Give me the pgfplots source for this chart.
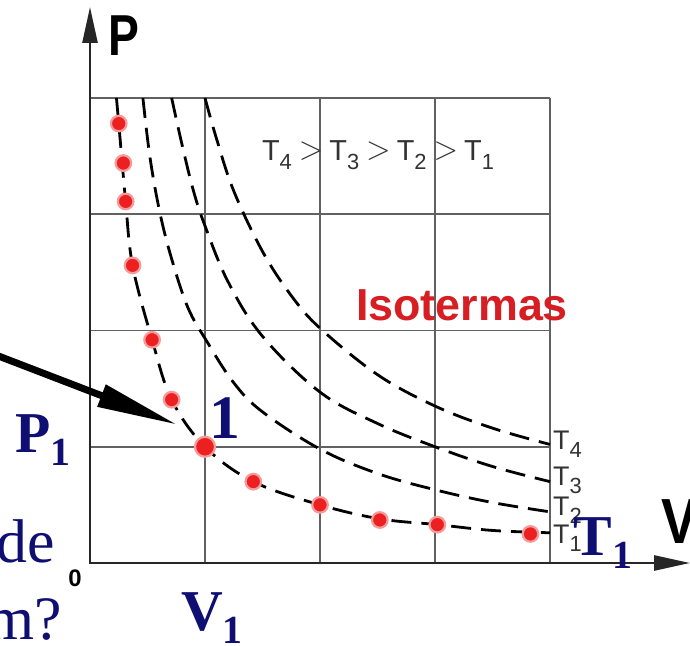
\documentclass[border=0pt]{standalone}
\usepackage{pgfplots}
\pgfplotsset{compat=1.18}
\usepackage{fontspec}
\setmainfont{Liberation Serif}
\setsansfont{Liberation Sans}
\usetikzlibrary{arrows.meta}
\definecolor{navy}{RGB}{14,14,115}
\definecolor{isored}{RGB}{215,30,35}
\definecolor{dotred}{RGB}{236,32,32}
\newcommand{\Tsub}[1]{T\raisebox{-0.3em}{\fontsize{22}{22}\selectfont #1}}
\newcommand{\bigGt}{\hspace{7bp}\raisebox{0.02em}{\scalebox{1.3}[1.35]{$>$}}\hspace{6bp}}
\begin{document}
\begin{tikzpicture}[x=1bp,y=1bp]
\clip (-90,-83) rectangle (600,563);
\fill[white] (-90,-83) rectangle (600,563);
\begin{axis}[
  at={(0,0)}, anchor=south west,
  scale only axis, width=460bp, height=465bp,
  xmin=0, xmax=4, ymin=0, ymax=4,
  xtick={0,1,2,3,4}, ytick={0,1,2,3,4},
  xticklabels={}, yticklabels={},
  tick style={draw=none},
  grid=major,
  major grid style={line width=1.8bp, black!62},
  axis line style={draw=none},
  clip=false,
]
% isotherm T4
\addplot[black, line width=2.8bp, dash pattern=on 20bp off 10bp, smooth, tension=0.6] coordinates {
 (1.0,4.0) (1.1,3.65) (1.25,3.2) (1.5,2.68) (1.75,2.3) (2.0,2.02) (2.5,1.62) (3.0,1.35) (3.5,1.16) (4.0,1.02)};
% T3
\addplot[black, line width=2.8bp, dash pattern=on 20bp off 10bp, smooth, tension=0.6] coordinates {
 (0.71,4.0) (0.8,3.6) (0.9,3.2) (1.0,2.9) (1.2,2.42) (1.5,1.95) (2.0,1.47) (2.5,1.2) (3.0,1.0) (3.5,0.83) (4.0,0.70)};
% T2
\addplot[black, line width=2.8bp, dash pattern=on 20bp off 10bp, smooth, tension=0.6] coordinates {
 (0.46,4.0) (0.52,3.5) (0.6,3.05) (0.7,2.65) (0.85,2.2) (1.02,1.9) (1.25,1.55) (1.5,1.3) (2.0,0.98) (2.5,0.77) (3.0,0.63) (3.5,0.52) (4.0,0.44)};
% T1
\addplot[black, line width=2.8bp, dash pattern=on 20bp off 10bp, smooth, tension=0.6] coordinates {
 (0.23,4.0) (0.25,3.78) (0.28,3.44) (0.31,3.11) (0.37,2.56) (0.54,1.92) (0.71,1.405) (1.0,1.0) (1.42,0.70) (2.0,0.50) (2.52,0.38) (3.02,0.33) (3.5,0.28) (4.0,0.26)};
% red dots on T1
\addplot[only marks, mark=*, mark size=7.8bp, draw=dotred!45!white, line width=2.2bp, fill=dotred] coordinates {
 (0.25,3.78) (0.29,3.44) (0.31,3.11) (0.37,2.56) (0.54,1.92) (0.71,1.405) (1.42,0.70) (2.0,0.50) (2.52,0.37) (3.02,0.33) (3.83,0.25)};
\addplot[only marks, mark=*, mark size=10bp, draw=dotred!45!white, line width=2.2bp, fill=dotred] coordinates {(1.0,1.0)};
\end{axis}
% axes
\draw[line width=2.6bp, black!85, -{Triangle[length=36bp,width=15bp]}] (0,-1) -- (0,556);
\draw[line width=2.6bp, black!85, -{Triangle[length=36bp,width=15bp]}] (-1,0) -- (600,0);
% axis letters
\node[font=\sffamily\bfseries\fontsize{58}{58}\selectfont, xscale=0.8] at (34,527) {P};
\node[font=\sffamily\bfseries\fontsize{64}{64}\selectfont, xscale=0.85] at (590,41) {V};
\node[font=\sffamily\bfseries\fontsize{24}{24}\selectfont] at (-15,-15) {0};
% inequality
\node[font=\sffamily\fontsize{29}{29}\selectfont, black!80] at (288,408) {\Tsub{4}\bigGt\Tsub{3}\bigGt\Tsub{2}\bigGt\Tsub{1}};
\node[font=\sffamily\bfseries\fontsize{45}{45}\selectfont, isored] at (372,258) {Isotermas};
% curve end labels
\foreach \lab/\yy in {4/119,3/83,2/53,1/25}
  \node[anchor=west, inner sep=0pt, font=\sffamily\fontsize{27}{27}\selectfont, black!80] at (463,\yy) {\Tsub{\lab}};
% pointer arrow
\draw[line width=7bp, -{Triangle[length=82bp,width=22bp]}] (-115,216) -- (88,138);
% blue annotations
\node[font=\bfseries\fontsize{58}{58}\selectfont, navy] at (-47,123) {P\raisebox{-0.22em}{\fontsize{40}{40}\selectfont 1}};
\node[font=\bfseries\fontsize{62}{62}\selectfont, navy] at (135,145) {1};
\node[font=\bfseries\fontsize{58}{58}\selectfont, navy] at (122,-55) {V\raisebox{-0.22em}{\fontsize{40}{40}\selectfont 1}};
\node[font=\bfseries\fontsize{58}{58}\selectfont, navy] at (513,20) {T\raisebox{-0.22em}{\fontsize{40}{40}\selectfont 1}};
\node[anchor=base east, inner sep=0pt, font=\fontsize{62}{62}\selectfont, navy] at (-35,0) {de};
\node[anchor=base east, inner sep=0pt, font=\fontsize{62}{62}\selectfont, navy] at (-28,-77) {m?};
\end{tikzpicture}
\end{document}
